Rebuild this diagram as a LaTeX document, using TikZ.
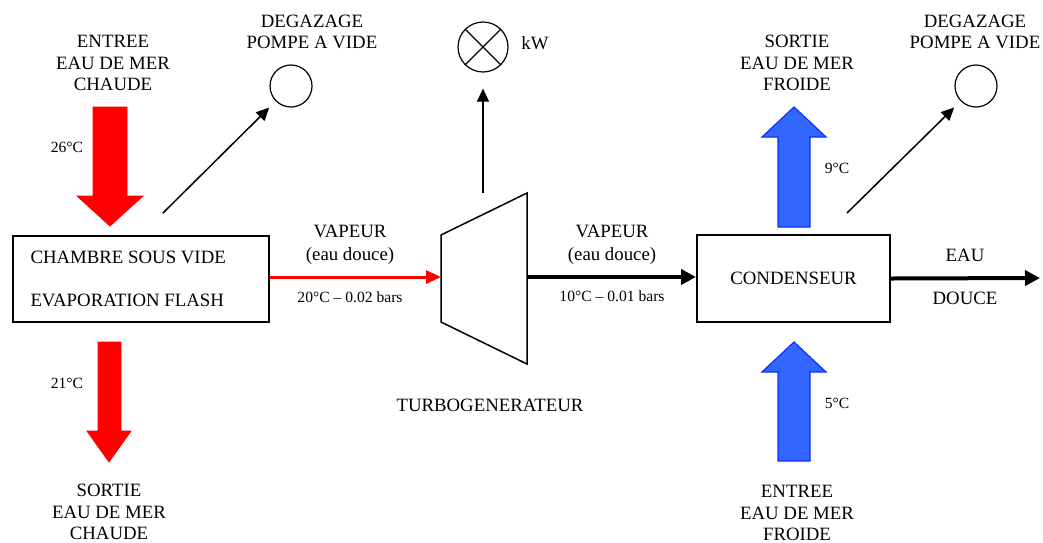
\documentclass[tikz,border=0pt]{standalone}
\usepackage{fontspec}
\setmainfont{Liberation Serif}
\usetikzlibrary{arrows.meta}
\definecolor{coldfill}{RGB}{51,102,255}
\definecolor{coldline}{RGB}{10,50,255}
\tikzset{
  lbl/.style={font=\fontsize{9.4}{10.75}\selectfont, align=center, inner sep=0pt},
  tmp/.style={font=\fontsize{7.8}{9}\selectfont, inner sep=0pt},
  box/.style={draw, line width=1pt, font=\fontsize{9.4}{10.75}\selectfont},
  pump/.style={draw, circle, line width=0.6pt, inner sep=0pt},
  thinarrow/.style={line width=0.75pt, -{Triangle[length=6.5pt,width=6pt]}},
  thickarrow/.style={line width=2pt, -{Triangle[length=7.5pt,width=7.5pt]}},
  steamarrow/.style={line width=1.5pt, red, -{Triangle[length=7.5pt,width=6.5pt]}},
  hot/.style={fill=red, draw=red, line width=0.4pt},
  cold/.style={fill=coldfill, draw=coldline, line width=0.6pt}
}
\begin{document}
\begin{tikzpicture}[x=0.5pt,y=-0.5pt]
\useasboundingbox (0,0) rectangle (1043,542);

\node[box, text width=110pt, align=flush left, inner xsep=9pt, minimum height=43pt] (chamber) at (140.5,279)
  {CHAMBRE SOUS VIDE\\[10.5pt]EVAPORATION FLASH};
\node[box, minimum width=96.5pt, minimum height=43.5pt] (cond) at (793.5,278.5) {CONDENSEUR};

% turbogenerateur
\coordinate (tA) at (441,235);
\coordinate (tB) at (527,193);
\coordinate (tC) at (527,364);
\coordinate (tD) at (441,322);
\draw[line width=0.75pt] (tA) -- (tB) -- (tC) -- (tD) -- cycle;
\coordinate (turbin) at (441,277);
\coordinate (turbout) at (527,277);
\coordinate (shaft) at (483,193);
\node[lbl] (turblbl) at (490,405) {TURBOGENERATEUR};

\node[pump, minimum size=25pt] (gen) at (483,47) {};
\draw[line width=0.6pt] (gen.45) -- (gen.225) (gen.135) -- (gen.315);
\node[lbl] (kw) at (535,43) {kW};
\draw[thinarrow, shorten >=8pt] (shaft) -- (gen);

% eau de mer chaude
\fill[hot] (93,107) -- (127,107) -- (127,196) -- (143,196) -- (110,226) -- (77,196) -- (93,196) -- cycle;
\fill[hot] (98,342) -- (121,342) -- (121,431) -- (131,431) -- (109,462) -- (87,431) -- (98,431) -- cycle;
\node[lbl] (hotin) at (113,63) {ENTREE\\EAU DE MER\\CHAUDE};
\node[lbl] (hotout) at (109,512) {SORTIE\\EAU DE MER\\CHAUDE};
\node[tmp] (t26) at (67,147) {26°C};
\node[tmp] (t21) at (67,383) {21°C};

% eau de mer froide
\filldraw[cold] (778,227) -- (810,227) -- (810,137) -- (826,137) -- (794,107) -- (762,137) -- (778,137) -- cycle;
\filldraw[cold] (778,461) -- (810,461) -- (810,372) -- (826,372) -- (794,342) -- (762,372) -- (778,372) -- cycle;
\node[lbl] (coldout) at (797,63) {SORTIE\\EAU DE MER\\FROIDE};
\node[lbl] (coldin) at (797,513) {ENTREE\\EAU DE MER\\FROIDE};
\node[tmp] (t9) at (837,168) {9°C};
\node[tmp] (t5) at (837,403) {5°C};

% degazage
\node[pump, minimum size=21pt] (pump1) at (291,86) {};
\node[pump, minimum size=21pt] (pump2) at (976,86) {};
\node[lbl] (degas1) at (312,32) {DEGAZAGE\\POMPE A VIDE};
\node[lbl] (degas2) at (975,32) {DEGAZAGE\\POMPE A VIDE};
\coordinate (vent1) at (163,213);
\coordinate (vent2) at (847,213);
\draw[thinarrow, shorten >=4.5pt] (vent1) -- (pump1);
\draw[thinarrow, shorten >=4.5pt] (vent2) -- (pump2);

% vapeur
\draw[steamarrow] (chamber.east |- turbin) -- (turbin);
\node[lbl] (steam1) at (350,244.5) {VAPEUR\\[0.75pt](eau douce)};
\node[tmp] (cond1) at (350,297) {20°C -- 0.02 bars};
\draw[thickarrow] (turbout) -- (cond.west |- turbout);
\node[lbl] (steam2) at (612,244.5) {VAPEUR\\[0.75pt](eau douce)};
\node[tmp] (cond2) at (612,296) {10°C -- 0.01 bars};

% eau douce
\coordinate (fresh) at (1040,278);
\draw[thickarrow] (cond.east) -- (fresh);
\node[lbl] (eau) at (965,255) {EAU};
\node[lbl] (douce) at (965,298) {DOUCE};
\end{tikzpicture}
\end{document}
